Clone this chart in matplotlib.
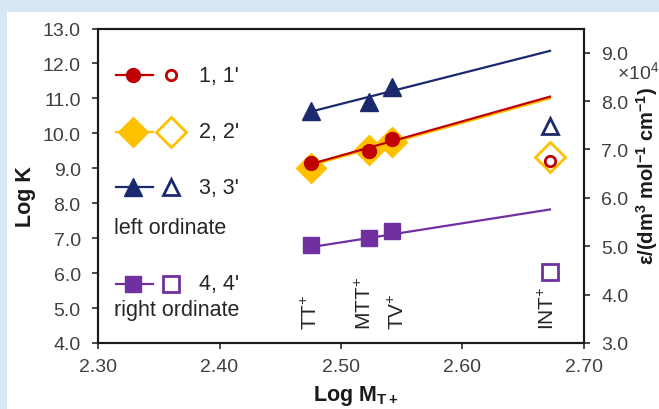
import numpy as np
import matplotlib
matplotlib.use("Agg")
import matplotlib.pyplot as plt
from matplotlib.patches import Rectangle
from matplotlib.ticker import FuncFormatter, MultipleLocator

plt.rcParams["font.family"] = ["Liberation Sans", "DejaVu Sans"]
plt.rcParams["mathtext.fontset"] = "custom"
plt.rcParams["mathtext.rm"] = "Liberation Sans"
plt.rcParams["mathtext.it"] = "Liberation Sans:italic"
plt.rcParams["mathtext.bf"] = "Liberation Sans:bold"

# ------------------------------------------------------------
# Data
# ------------------------------------------------------------
ions = ["TT$^{+}$", "MTT$^{+}$", "TV$^{+}$", "INT$^{+}$"]
log_m = [2.475, 2.523, 2.542]          # TT+, MTT+, TV+
log_m_int = 2.672                      # INT+
label_x = [2.475, 2.520, 2.547, 2.670]

logk_1 = [9.14, 9.50, 9.84]
logk_2 = [9.01, 9.52, 9.74]
logk_3 = [10.64, 10.89, 11.33]
eps_4 = [50200, 51600, 53100]          # right ordinate

logk_1_int = 9.22
logk_2_int = 9.31
logk_3_int = 10.22
eps_4_int = 44600

# fitted lines (end points)
fit_x = [2.475, 2.672]
fit_1 = [9.12, 11.05]
fit_2 = [9.08, 11.00]
fit_3 = [10.62, 12.36]
fit_4 = [49800, 57600]

RED = "#c00000"
ORANGE = "#ffc000"
NAVY = "#1b2a6e"
PURPLE = "#7030a0"
TXT = "#262626"
TICK = "#404040"


def key_row(ax, y, color, marker, ms_full, ms_open, label):
    # one row of the hand made key: line + filled marker, open marker, text
    tr = ax.transAxes
    ax.plot([0.037, 0.113], [y, y], color=color, lw=1.6,
            transform=tr, clip_on=False, zorder=5)
    ax.plot([0.073], [y], marker=marker, ms=ms_full, color=color,
            mec=color, ls="none", transform=tr, clip_on=False, zorder=6)
    ax.plot([0.151], [y], marker=marker, ms=ms_open, mfc="white",
            mec=color, mew=2, ls="none", transform=tr, clip_on=False, zorder=6)
    ax.text(0.208, y, label, transform=tr, ha="left", va="center",
            fontsize=15.5, color=TXT)


def main():
    fig = plt.figure(figsize=(6.59, 4.10), dpi=100, facecolor="#d9e7f5")
    fig.patches.append(Rectangle((7 / 659, 0), 1, 1 - 13 / 410,
                                 transform=fig.transFigure,
                                 facecolor="white", edgecolor="none", zorder=-5))

    ax = fig.add_axes([98 / 659, 1 - 344 / 410, 486 / 659, 314.5 / 410])
    ax2 = ax.twinx()
    ax.set_zorder(2)
    ax2.set_zorder(1)
    ax.patch.set_visible(False)
    ax2.patch.set_facecolor("white")

    ax.set_xlim(2.30, 2.70)
    ax.set_ylim(4.0, 13.0)
    ax2.set_ylim(30000, 95000)
    ax.xaxis.set_major_locator(MultipleLocator(0.10))
    ax.yaxis.set_major_locator(MultipleLocator(1.0))
    ax2.set_yticks(np.arange(30000, 90001, 10000))
    ax.xaxis.set_major_formatter(FuncFormatter(lambda v, p: f"{v:.2f}"))
    ax.yaxis.set_major_formatter(FuncFormatter(lambda v, p: f"{v:.1f}"))
    ax2.yaxis.set_major_formatter(FuncFormatter(lambda v, p: f"{v / 1e4:.1f}"))

    for a in (ax, ax2):
        for s in a.spines.values():
            s.set_linewidth(1.5)
            s.set_color("#1a1a1a")
        a.tick_params(direction="out", length=4.5, width=1.1, color="#1a1a1a",
                      labelsize=14, labelcolor=TICK, pad=8)
    ax.tick_params(axis="x", pad=6)
    ax.tick_params(top=False, right=False)

    # series 4 on the right ordinate
    ax2.plot(fit_x, fit_4, color=PURPLE, lw=1.6, zorder=2)
    ax2.plot(log_m, eps_4, "s", ms=11.5, color=PURPLE, zorder=3)
    ax2.plot([log_m_int], [eps_4_int], "s", ms=11, mfc="white", mec=PURPLE,
             mew=2, zorder=3)

    # series 3
    ax.plot(log_m, logk_3, "^", ms=13, color=NAVY, zorder=3)
    ax.plot(fit_x, fit_3, color=NAVY, lw=1.6, zorder=4)
    ax.plot([log_m_int], [logk_3_int], "^", ms=12, mfc="white", mec=NAVY,
            mew=2, zorder=3)

    # series 2 and 1
    ax.plot(log_m, logk_2, "D", ms=15, color=ORANGE, zorder=3)
    ax.plot(fit_x, fit_2, color=ORANGE, lw=1.6, zorder=4)
    ax.plot(fit_x, fit_1, color=RED, lw=1.6, zorder=4)
    ax.plot(log_m, logk_1, "o", ms=10, color=RED, zorder=5)
    ax.plot([log_m_int], [logk_2_int], "D", ms=15, mfc="white", mec=ORANGE,
            mew=2, zorder=3)
    ax.plot([log_m_int], [logk_1_int], "o", ms=7.5, mfc="white", mec=RED,
            mew=2, zorder=5)

    # ion names
    for x, name in zip(label_x, ions):
        ax.text(x, 4.40, name, rotation=90, ha="center", va="bottom",
                fontsize=15, color=TXT)

    # key
    key_row(ax, 0.852, RED, "o", 10, 7.5, "1, 1'")
    key_row(ax, 0.671, ORANGE, "D", 15, 15, "2, 2'")
    key_row(ax, 0.496, NAVY, "^", 13, 12, "3, 3'")
    ax.text(0.033, 0.366, "left ordinate", transform=ax.transAxes,
            ha="left", va="center", fontsize=15.5, color=TXT)
    key_row(ax, 0.188, PURPLE, "s", 11.5, 11, "4, 4'")
    ax.text(0.033, 0.108, "right ordinate", transform=ax.transAxes,
            ha="left", va="center", fontsize=15.5, color=TXT)

    # axis titles
    fig.text(25 / 659, 1 - 197 / 410, "Log K", rotation=90, ha="center",
             va="center", fontsize=15.5, fontweight="bold", color="#1a1a1a")
    fig.text(356 / 659, 1 - 396 / 410, r"Log M$_{\mathbf{T+}}$", ha="center",
             va="center", fontsize=15.5, fontweight="bold", color="#1a1a1a")
    fig.text(647 / 659, 1 - 176 / 410,
             r"ε/(dm$^{\mathbf{3}}$ mol$^{\mathbf{-1}}$ cm$^{\mathbf{-1}}$)",
             rotation=90, ha="center", va="center", fontsize=14.5,
             fontweight="bold", color="#1a1a1a")
    fig.text(617 / 659, 1 - 72 / 410, "×10$^{4}$", ha="left", va="center",
             fontsize=14, color=TICK)

    fig.savefig("out.png", dpi=100, facecolor=fig.get_facecolor())
    plt.close(fig)


if __name__ == "__main__":
    main()
